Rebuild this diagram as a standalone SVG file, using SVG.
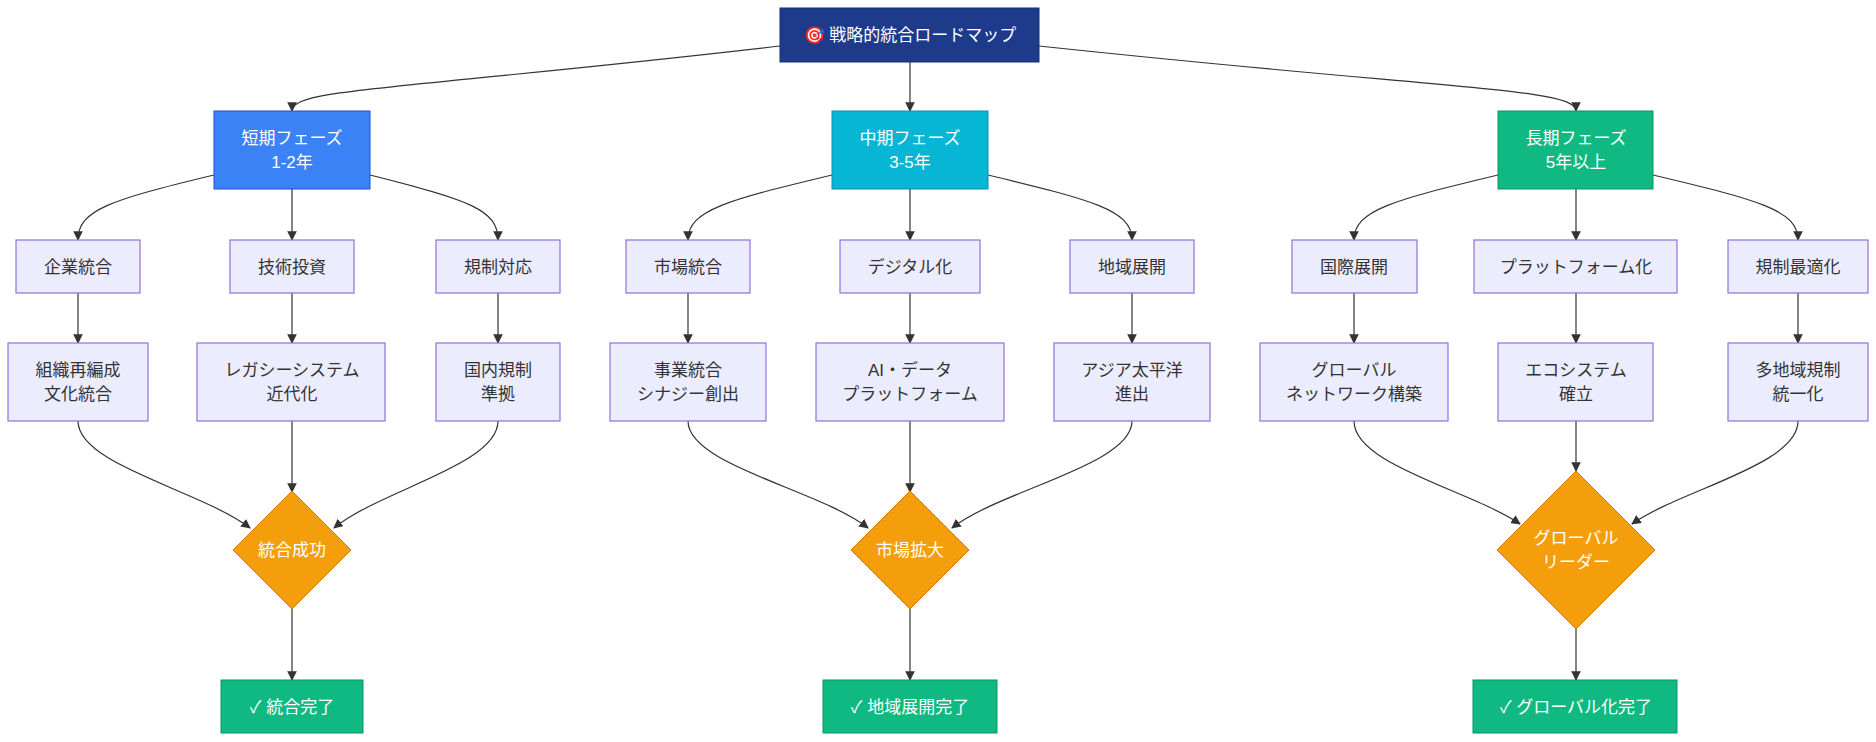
<svg xmlns="http://www.w3.org/2000/svg" width="1876" height="742" viewBox="0 0 1876 742">
<style>
text{font-family:"Liberation Sans","Noto Sans CJK JP",sans-serif;font-size:17px;text-anchor:middle;dominant-baseline:central;fill:#333}
.w{fill:#fff}
.n{fill:#ECECFF;stroke:#9370DB;stroke-width:1.2}
.e{fill:none;stroke:#333;stroke-width:1.2;marker-end:url(#a)}
</style>
<defs><marker id="a" viewBox="0 0 10 10" refX="9" refY="5" markerWidth="8" markerHeight="8" orient="auto"><path d="M0,0L10,5L0,10z" fill="#333"/></marker></defs>
<rect width="1876" height="742" fill="#fff"/>
<g id="edges">
<path class="e" d="M780,46 C400,90 292,88 292,111"/>
<path class="e" d="M910,62 L910,111"/>
<path class="e" d="M1039,46 C1450,90 1576,88 1576,111"/>
<path class="e" d="M214,175 C110,200 78,210 78,240"/>
<path class="e" d="M292,189 L292,240"/>
<path class="e" d="M370,175 C470,200 498,210 498,240"/>
<path class="e" d="M832,175 C728,200 688,210 688,240"/>
<path class="e" d="M910,189 L910,240"/>
<path class="e" d="M988,175 C1092,200 1132,210 1132,240"/>
<path class="e" d="M1498,175 C1394,200 1354,210 1354,240"/>
<path class="e" d="M1576,189 L1576,240"/>
<path class="e" d="M1653,175 C1758,200 1798,210 1798,240"/>
<path class="e" d="M78,293 L78,343"/>
<path class="e" d="M292,293 L292,343"/>
<path class="e" d="M498,293 L498,343"/>
<path class="e" d="M688,293 L688,343"/>
<path class="e" d="M910,293 L910,343"/>
<path class="e" d="M1132,293 L1132,343"/>
<path class="e" d="M1354,293 L1354,343"/>
<path class="e" d="M1576,293 L1576,343"/>
<path class="e" d="M1798,293 L1798,343"/>
<path class="e" d="M78,421 C78,465 200,490 250,528"/>
<path class="e" d="M292,421 L292,492"/>
<path class="e" d="M498,421 C498,465 380,490 334,528"/>
<path class="e" d="M688,421 C688,465 820,490 868,528"/>
<path class="e" d="M910,421 L910,492"/>
<path class="e" d="M1132,421 C1132,465 1000,490 952,528"/>
<path class="e" d="M1354,421 C1354,465 1470,490 1520,524"/>
<path class="e" d="M1576,421 L1576,471"/>
<path class="e" d="M1798,421 C1798,465 1680,490 1632,524"/>
<path class="e" d="M292,609 L292,680"/>
<path class="e" d="M910,609 L910,680"/>
<path class="e" d="M1576,629 L1576,680"/>
</g>
<g id="root"><rect x="780" y="8" width="259" height="54" fill="#1e3a8a" stroke="#172f70"/><text class="w" x="910" y="35">🎯 戦略的統合ロードマップ</text></g>
<g id="short"><rect x="214" y="111" width="156" height="78" fill="#3b82f6" stroke="#1d4ed8"/><text class="w" x="292" y="138">短期フェーズ</text><text class="w" x="292" y="162">1-2年</text></g>
<g id="mid"><rect x="832" y="111" width="156" height="78" fill="#06b6d4" stroke="#0891b2"/><text class="w" x="910" y="138">中期フェーズ</text><text class="w" x="910" y="162">3-5年</text></g>
<g id="long"><rect x="1498" y="111" width="155" height="78" fill="#10b981" stroke="#059669"/><text class="w" x="1576" y="138">長期フェーズ</text><text class="w" x="1576" y="162">5年以上</text></g>
<g id="s1"><rect class="n" x="16" y="240" width="124" height="53"/><text x="78" y="267">企業統合</text></g>
<g id="s2"><rect class="n" x="230" y="240" width="124" height="53"/><text x="292" y="267">技術投資</text></g>
<g id="s3"><rect class="n" x="436" y="240" width="124" height="53"/><text x="498" y="267">規制対応</text></g>
<g id="m1"><rect class="n" x="626" y="240" width="124" height="53"/><text x="688" y="267">市場統合</text></g>
<g id="m2"><rect class="n" x="840" y="240" width="140" height="53"/><text x="910" y="267">デジタル化</text></g>
<g id="m3"><rect class="n" x="1070" y="240" width="124" height="53"/><text x="1132" y="267">地域展開</text></g>
<g id="l1"><rect class="n" x="1292" y="240" width="125" height="53"/><text x="1354" y="267">国際展開</text></g>
<g id="l2"><rect class="n" x="1474" y="240" width="203" height="53"/><text x="1576" y="267">プラットフォーム化</text></g>
<g id="l3"><rect class="n" x="1728" y="240" width="140" height="53"/><text x="1798" y="267">規制最適化</text></g>
<g id="s4"><rect class="n" x="8" y="343" width="140" height="78"/><text x="78" y="370">組織再編成</text><text x="78" y="394">文化統合</text></g>
<g id="s5"><rect class="n" x="197" y="343" width="188" height="78"/><text x="292" y="370">レガシーシステム</text><text x="292" y="394">近代化</text></g>
<g id="s6"><rect class="n" x="436" y="343" width="124" height="78"/><text x="498" y="370">国内規制</text><text x="498" y="394">準拠</text></g>
<g id="m4"><rect class="n" x="610" y="343" width="156" height="78"/><text x="688" y="370">事業統合</text><text x="688" y="394">シナジー創出</text></g>
<g id="m5"><rect class="n" x="816" y="343" width="188" height="78"/><text x="910" y="370">AI・データ</text><text x="910" y="394">プラットフォーム</text></g>
<g id="m6"><rect class="n" x="1054" y="343" width="156" height="78"/><text x="1132" y="370">アジア太平洋</text><text x="1132" y="394">進出</text></g>
<g id="l4"><rect class="n" x="1260" y="343" width="188" height="78"/><text x="1354" y="370">グローバル</text><text x="1354" y="394">ネットワーク構築</text></g>
<g id="l5"><rect class="n" x="1498" y="343" width="155" height="78"/><text x="1576" y="370">エコシステム</text><text x="1576" y="394">確立</text></g>
<g id="l6"><rect class="n" x="1728" y="343" width="140" height="78"/><text x="1798" y="370">多地域規制</text><text x="1798" y="394">統一化</text></g>
<g id="d1"><polygon points="292,491 351,550 292,609 233,550" fill="#f59e0b" stroke="#d97706"/><text class="w" x="292" y="550">統合成功</text></g>
<g id="d2"><polygon points="910,491 969,550 910,609 851,550" fill="#f59e0b" stroke="#d97706"/><text class="w" x="910" y="550">市場拡大</text></g>
<g id="d3"><polygon points="1576,471 1655,550 1576,629 1497,550" fill="#f59e0b" stroke="#d97706"/><text class="w" x="1576" y="538">グローバル</text><text class="w" x="1576" y="562">リーダー</text></g>
<g id="e1"><rect x="221" y="680" width="142" height="53" fill="#10b981" stroke="#059669"/><text class="w" x="292" y="707">✓ 統合完了</text></g>
<g id="e2"><rect x="823" y="680" width="174" height="53" fill="#10b981" stroke="#059669"/><text class="w" x="910" y="707">✓ 地域展開完了</text></g>
<g id="e3"><rect x="1473" y="680" width="204" height="53" fill="#10b981" stroke="#059669"/><text class="w" x="1576" y="707">✓ グローバル化完了</text></g>
</svg>
